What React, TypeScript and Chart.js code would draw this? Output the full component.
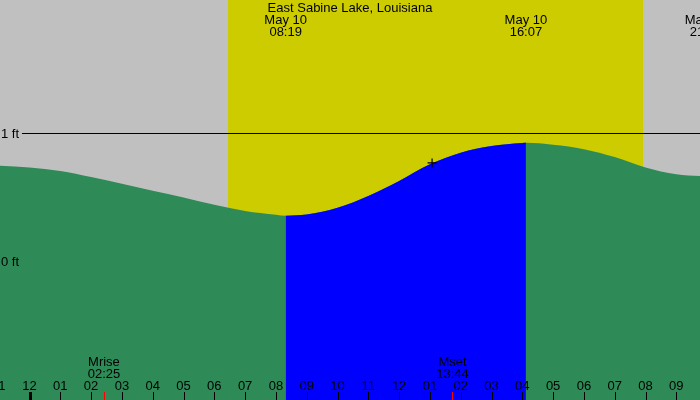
import React, { useEffect, useRef } from "react";
import { Chart, registerables } from "chart.js";

Chart.register(...registerables);

// ---- Data ----
const titleText = "East Sabine Lake, Louisiana";
// hours relative to midnight May 10
const tideHours = [-0.96, 0, 1, 2, 3, 4, 5, 6, 7, 8, 8.317, 9, 10, 11, 12, 13, 14, 15, 16, 16.117, 17, 18, 19, 20, 21, 21.8];
const tideFeet = [0.745, 0.73, 0.703, 0.656, 0.604, 0.548, 0.496, 0.439, 0.391, 0.361, 0.353, 0.363, 0.416, 0.508, 0.625, 0.755, 0.846, 0.898, 0.922, 0.923, 0.908, 0.874, 0.812, 0.731, 0.678, 0.663];

const risingStart = 8.317; // low tide 08:19
const risingEnd = 16.117; // high tide 16:07

const tideEventHours = [8.317, 16.117, 21.967];
const tideEventDates = ["May 10", "May 10", "May 10"];
const tideEventTimes = ["08:19", "16:07", "21:58"];

const moonHours = [2.417, 13.733];
const moonNames = ["Mrise", "Mset"];
const moonTimes = ["02:25", "13:44"];

const sunriseHour = 6.445;
const sunsetHour = 19.92;

const nowHour = 13.07;
const nowFeet = 0.766;

const tickHours = [-1, 0, 1, 2, 3, 4, 5, 6, 7, 8, 9, 10, 11, 12, 13, 14, 15, 16, 17, 18, 19, 20, 21, 22];
const tickLabels = ["11", "12", "01", "02", "03", "04", "05", "06", "07", "08", "09", "10", "11", "12", "01", "02", "03", "04", "05", "06", "07", "08", "09", "10"];

const levelFeet = [1, 0];
const levelLabels = ["1 ft", "0 ft"];

const xMin = -0.9578;
const xMax = 21.769;
const yMin = -1.0859;
const yMax = 2.0391;

const FONT = '13px "Liberation Sans", Arial, sans-serif';

const decorPlugin = {
  id: "decor",
  beforeDatasetsDraw(chart: any) {
    const { ctx, scales } = chart;
    const xs = scales.x;
    const ys = scales.y;
    ctx.save();
    ctx.fillStyle = "#C0C0C0";
    ctx.fillRect(0, 0, chart.width, chart.height);
    const sx = xs.getPixelForValue(sunriseHour);
    const ex = xs.getPixelForValue(sunsetHour);
    ctx.fillStyle = "#CCCC00";
    ctx.fillRect(sx, 0, ex - sx, chart.height);
    // 1 ft line
    const ly = Math.round(ys.getPixelForValue(1));
    ctx.fillStyle = "#000";
    ctx.fillRect(22, ly, chart.width - 22, 1);
    ctx.restore();
  },
  afterDatasetsDraw(chart: any) {
    const { ctx, scales } = chart;
    const xs = scales.x;
    const ys = scales.y;
    ctx.save();
    ctx.font = FONT;
    ctx.fillStyle = "#000";
    ctx.textBaseline = "middle";
    ctx.textAlign = "center";
    ctx.fillText(titleText, chart.width / 2, 8.5);
    tideEventHours.forEach((h, i) => {
      const x = xs.getPixelForValue(h);
      ctx.fillText(tideEventDates[i], x, 20.5);
      ctx.fillText(tideEventTimes[i], x, 32.5);
    });
    moonHours.forEach((h, i) => {
      const x = xs.getPixelForValue(h);
      ctx.fillText(moonNames[i], x, 362.5);
      ctx.fillText(moonTimes[i], x, 374.5);
    });
    tickHours.forEach((h, i) => {
      const x = xs.getPixelForValue(h);
      ctx.fillStyle = "#000";
      ctx.fillText(tickLabels[i], x, 386.5);
      const rx = Math.round(x);
      if (h === 0) ctx.fillRect(rx - 1, 392, 3, 8);
      else ctx.fillRect(rx, 392, 1, 8);
    });
    ctx.fillStyle = "#FF0000";
    moonHours.forEach((h) => {
      const x = Math.round(xs.getPixelForValue(h));
      ctx.fillRect(x, 392, 1, 8);
    });
    ctx.fillStyle = "#000";
    ctx.textAlign = "left";
    levelFeet.forEach((f, i) => {
      ctx.fillText(levelLabels[i], 1, ys.getPixelForValue(f) + 1);
    });
    ctx.restore();
  },
};

export default function App() {
  const canvasRef = useRef<HTMLCanvasElement | null>(null);

  useEffect(() => {
    document.body.style.margin = "0";
    const canvas = canvasRef.current;
    if (!canvas) return;
    const tidePoints = tideHours.map((h, i) => ({ x: h, y: tideFeet[i] }));
    const risingPoints = tidePoints.filter((p) => p.x >= risingStart - 1e-6 && p.x <= risingEnd + 1e-6);
    const chart = new Chart(canvas, {
      type: "line",
      data: {
        datasets: [
          {
            data: [{ x: nowHour, y: nowFeet }],
            showLine: false,
            pointStyle: "cross",
            pointRadius: 4.5,
            borderColor: "#000",
            borderWidth: 1.2,
            order: 0,
          } as any,
          {
            data: risingPoints,
            fill: "start",
            backgroundColor: "#0000FF",
            borderWidth: 0,
            borderColor: "rgba(0,0,0,0)",
            pointRadius: 0,
            cubicInterpolationMode: "monotone",
            order: 1,
          },
          {
            data: tidePoints,
            fill: "start",
            backgroundColor: "#2E8B57",
            borderWidth: 0,
            borderColor: "rgba(0,0,0,0)",
            pointRadius: 0,
            cubicInterpolationMode: "monotone",
            order: 2,
          },
        ],
      },
      options: {
        animation: false,
        responsive: false,
        devicePixelRatio: 1,
        layout: { padding: 0, autoPadding: false },
        plugins: { legend: { display: false }, tooltip: { enabled: false }, title: { display: false } },
        scales: {
          x: { type: "linear", display: false, min: xMin, max: xMax },
          y: { type: "linear", display: false, min: yMin, max: yMax },
        },
      },
      plugins: [decorPlugin],
    });
    return () => chart.destroy();
  }, []);

  return (
    <div style={{ position: "absolute", left: 0, top: 0, width: 700, height: 400 }}>
      <canvas ref={canvasRef} width={700} height={400} style={{ width: 700, height: 400, display: "block" }} />
    </div>
  );
}
